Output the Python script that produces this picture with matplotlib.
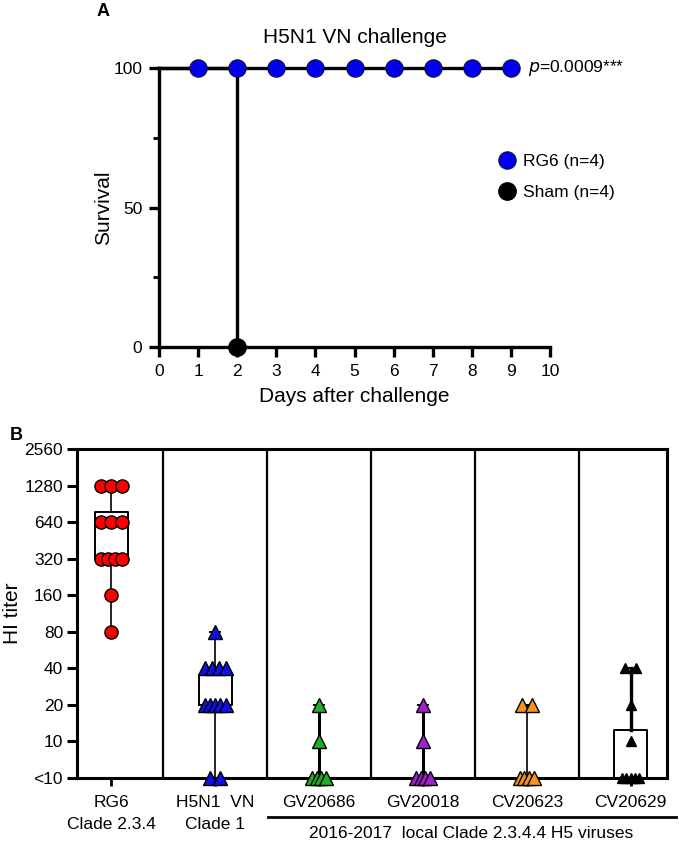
import matplotlib
matplotlib.use('Agg')
import matplotlib.pyplot as plt
from matplotlib.lines import Line2D

plt.rcParams['font.family'] = ['Liberation Sans', 'DejaVu Sans']

# ---- panel A data: survival (%)
rg6_days = [0, 1, 2, 3, 4, 5, 6, 7, 8, 9]
rg6_surv = [100, 100, 100, 100, 100, 100, 100, 100, 100, 100]
sham_days = [0, 2, 2]
sham_surv = [100, 100, 0]

# ---- panel B data: HI titers (5 stands for "<10")
groups = ['RG6\nClade 2.3.4', 'H5N1  VN\nClade 1', 'GV20686', 'GV20018', 'CV20623', 'CV20629']
rg6_titer = [1280, 1280, 1280, 640, 640, 640, 320, 320, 320, 320, 160, 80]
vn_titer = [80, 40, 40, 40, 40, 20, 20, 20, 20, 20, 5, 5]
gv20686_titer = [20, 10, 5, 5, 5, 5]
gv20018_titer = [20, 10, 5, 5, 5, 5]
cv20623_titer = [20, 20, 5, 5, 5, 5]
cv20629_titer = [40, 40, 20, 10, 5, 5, 5, 5, 5]
box_q1 = [320, 20, 5, 5, 5, 5]
box_med = [640, 20, 5, 5, 5, 5]
box_q3 = [780, 35, 5, 5, 5, 12.5]
whisk_lo = [80, 5, 5, 5, 5, 5]
whisk_hi = [1280, 80, 20, 20, 20, 40]
yticks = [5, 10, 20, 40, 80, 160, 320, 640, 1280, 2560]
ytick_labels = ['<10', '10', '20', '40', '80', '160', '320', '640', '1280', '2560']

all_titers = [rg6_titer, vn_titer, gv20686_titer, gv20018_titer, cv20623_titer, cv20629_titer]
colors = ['#ff0000', '#1010e0', '#1fb01f', '#a020d0', '#f7941d', '#000000']
markers = ['o', '^', '^', '^', '^', '^']
msizes = [9.5, 10, 10, 10, 10, 7.5]

fig = plt.figure(figsize=(6.79, 8.43), dpi=100)

# ================= Panel A
axA = fig.add_axes([159 / 679, 1 - 347 / 843, 391 / 679, 279 / 843])
axA.plot(rg6_days, rg6_surv, color='black', lw=2.4, marker='o', ms=12.5,
         mfc='#0000ee', mec='#101030', mew=0.8, markevery=list(range(1, 10)),
         clip_on=False, zorder=4)
axA.plot(sham_days, sham_surv, color='black', lw=2.4, marker='o', ms=12.5,
         mfc='black', mec='black', markevery=[2], clip_on=False, zorder=3)
axA.set_xlim(0, 10)
axA.set_ylim(0, 100)
axA.set_xticks(range(0, 11))
axA.set_yticks([0, 50, 100])
axA.set_yticks([25, 75], minor=True)
for s in ['top', 'right']:
    axA.spines[s].set_visible(False)
for s in ['left', 'bottom']:
    axA.spines[s].set_linewidth(2.4)
axA.tick_params(axis='both', which='major', width=2.4, length=7, labelsize=12.5, pad=5)
axA.tick_params(axis='y', which='minor', width=2.0, length=4)
axA.set_xlabel('Days after challenge', fontsize=15, labelpad=6)
axA.set_ylabel('Survival', fontsize=15, labelpad=0)
axA.set_title('H5N1 VN challenge', fontsize=15, pad=18)
axA.text(9.45, 100, '$\\it{p}$=0.0009***', fontsize=12.5, va='center', ha='left')

leg_handles = [
    Line2D([], [], ls='none', marker='o', ms=12.5, mfc='#0000ee', mec='#101030', mew=0.8),
    Line2D([], [], ls='none', marker='o', ms=12.5, mfc='black', mec='black'),
]
axA.legend(leg_handles, ['RG6 (n=4)', 'Sham (n=4)'], frameon=False, fontsize=12.5,
           loc='upper left', bbox_to_anchor=(488 / 679, 1 - 145 / 843),
           bbox_transform=fig.transFigure, handletextpad=0.3, labelspacing=0.9,
           borderpad=0, handlelength=1.2)

fig.text(97 / 679, 1 - 12 / 843, 'A', fontsize=13, fontweight='bold', va='center')

# ================= Panel B
axB = fig.add_axes([77 / 679, 1 - 778 / 843, 590 / 679, 329 / 843])
axB.set_yscale('log', base=2)
axB.set_ylim(5, 2560)
axB.set_xlim(-0.33, 5.35)

stats = []
for i in range(len(groups)):
    stats.append(dict(q1=box_q1[i], med=box_med[i], q3=box_q3[i],
                      whislo=whisk_lo[i], whishi=whisk_hi[i], fliers=[]))
whisk_lw = [1.2, 1.2, 2.2, 2.2, 1.2, 2.4]
for i in range(len(groups)):
    axB.bxp([stats[i]], positions=[i], widths=0.32, capwidths=0.1, showfliers=False,
            boxprops=dict(color='black', lw=1.4),
            medianprops=dict(color='black', lw=1.4),
            whiskerprops=dict(color='black', lw=whisk_lw[i]),
            capprops=dict(color='black', lw=1.4),
            manage_ticks=False)

# scatter points, spreading equal values sideways
for i, vals in enumerate(all_titers):
    counts = {}
    for v in vals:
        counts[v] = counts.get(v, 0) + 1
    for v, n in counts.items():
        span = min(0.1 * (n - 1), 0.2)
        if v == 5 and i > 1:
            span = min(0.045 * (n - 1), 0.16)
        for k in range(n):
            off = (k / (n - 1) - 0.5) * span if n > 1 else 0
            axB.plot(i + off, v, ls='none', marker=markers[i], ms=msizes[i],
                     mfc=colors[i], mec='black', mew=1.0, clip_on=False, zorder=5)

for xs in [0.5, 1.5, 2.5, 3.5, 4.5]:
    axB.axvline(xs, color='black', lw=1.6, zorder=1)

for s in ['top', 'right', 'left', 'bottom']:
    axB.spines[s].set_linewidth(2.2)
axB.set_yticks(yticks)
axB.set_yticklabels(ytick_labels)
axB.minorticks_off()
axB.set_xticks(range(len(groups)))
axB.set_xticklabels(groups, linespacing=1.6)
axB.tick_params(axis='y', width=2.2, length=7, labelsize=12.5, pad=3)
axB.tick_params(axis='x', width=2.0, length=6, labelsize=12.5, pad=6)
axB.set_ylabel('HI titer', fontsize=15, labelpad=2)

fig.text(10 / 679, 1 - 436 / 843, 'B', fontsize=13, fontweight='bold', va='center')
fig.add_artist(Line2D([268 / 679, 676 / 679], [1 - 817 / 843, 1 - 817 / 843],
                      color='black', lw=2.0))
fig.text(471 / 679, 1 - 833 / 843, '2016-2017  local Clade 2.3.4.4 H5 viruses',
         fontsize=12.5, ha='center', va='center')

fig.savefig('out.png', dpi=100)
